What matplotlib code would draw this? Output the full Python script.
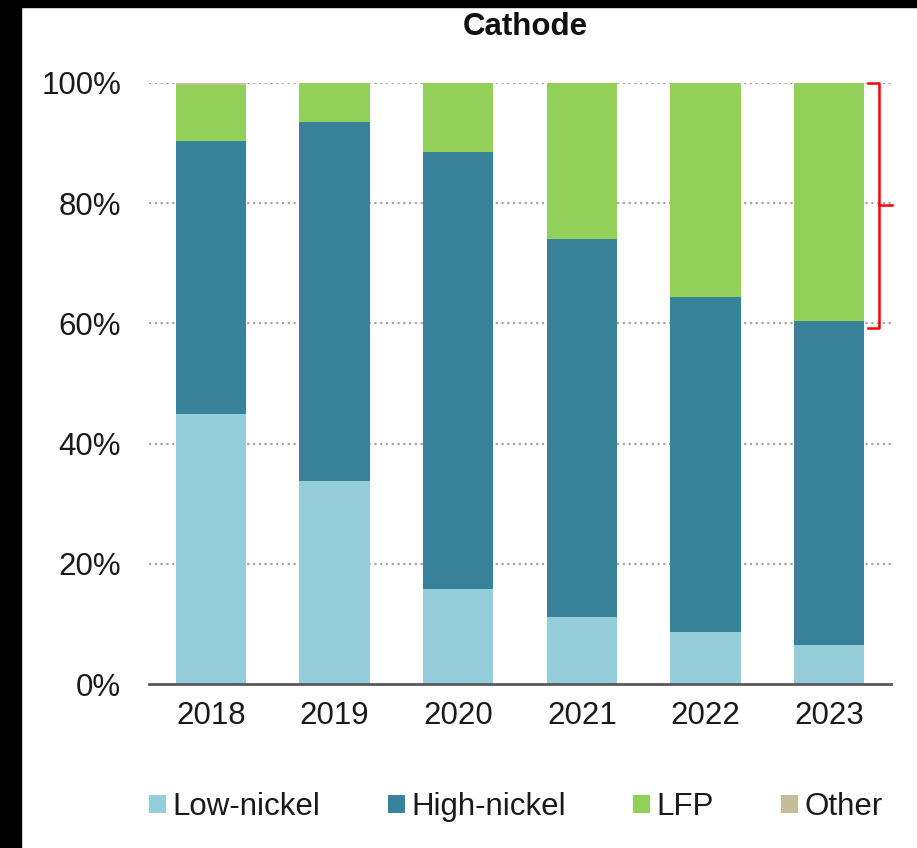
import matplotlib
matplotlib.use("Agg")
import matplotlib.pyplot as plt
from matplotlib.patches import Patch, Rectangle
from matplotlib.transforms import blended_transform_factory
import numpy as np

plt.rcParams['font.family'] = ['Liberation Sans', 'DejaVu Sans']

# data (share of cathode, %)
years = ["2018", "2019", "2020", "2021", "2022", "2023"]
low_nickel = [44.9, 33.8, 15.8, 11.1, 8.7, 6.5]
high_nickel = [45.4, 59.7, 72.7, 62.9, 55.7, 53.9]
lfp = [9.4, 6.5, 11.5, 26.0, 35.6, 39.6]
other = [0.3, 0.0, 0.0, 0.0, 0.0, 0.0]
series_names = ["Low-nickel", "High-nickel", "LFP", "Other"]
colors = ["#96CDDB", "#38839A", "#92D05A", "#C4BD97"]
yticks = [0, 20, 40, 60, 80, 100]

W, H = 917, 848
fig = plt.figure(figsize=(W / 100, H / 100), dpi=100)
fig.patch.set_facecolor("white")

# black strips from the screenshot crop
fig.patches.append(Rectangle((0, 0), 21 / W, 1, transform=fig.transFigure, color="black", zorder=10))
fig.patches.append(Rectangle((0, 1 - 7 / H), 1, 7 / H, transform=fig.transFigure, color="black", zorder=10))

ax = fig.add_axes([149 / W, 1 - 684 / H, 742 / W, 601 / H])
x = np.arange(len(years))
bottom = np.zeros(len(years))
for vals, c, name in zip([low_nickel, high_nickel, lfp, other], colors, series_names):
    ax.bar(x, vals, width=0.57, bottom=bottom, color=c, label=name, zorder=3)
    bottom += np.array(vals)

ax.set_xlim(-0.5, 5.5)
ax.set_ylim(0, 100)
ax.set_yticks(yticks)
ax.set_yticklabels([f"{v}%" for v in yticks])
ax.set_xticks(x)
ax.set_xticklabels(years)
ax.tick_params(axis="both", length=0, labelsize=22.5, colors="#1a1a1a")
ax.tick_params(axis="y", pad=20)
ax.tick_params(axis="x", pad=12.5)
for v in yticks[1:]:
    ax.axhline(v, color="#A6A6A6", lw=1.6, ls=(0, (1, 1.6)), zorder=1)
for s in ["top", "right", "left"]:
    ax.spines[s].set_visible(False)
ax.spines["bottom"].set_color("#595959")
ax.spines["bottom"].set_linewidth(2)
ax.spines["bottom"].set_zorder(4)

fig.text(525 / W, 1 - 27 / H, "Cathode", ha="center", va="center",
         fontsize=22.5, fontweight="bold", color="#111111")

handles = [Patch(facecolor=c, label=n) for c, n in zip(colors, series_names)]
fig.legend(handles=handles, loc="center", bbox_to_anchor=(516 / W, 1 - 807 / H),
           ncol=4, frameon=False, fontsize=22.5, handlelength=0.55, handleheight=0.55,
           handletextpad=0.2, columnspacing=2.15, borderpad=0, labelcolor="#1a1a1a")

# red brace marking the 2023 LFP share
tr = blended_transform_factory(ax.transAxes, ax.transData)
top_y = 100
bot_y = 59.3
mid_y = (top_y + bot_y) / 2
ax.plot([0.969, 0.984, 0.984, 1.002], [top_y, top_y, mid_y, mid_y], transform=tr,
        color="red", lw=1.8, clip_on=False, zorder=5)
ax.plot([0.984, 0.984, 0.969], [mid_y, bot_y, bot_y], transform=tr,
        color="red", lw=1.8, clip_on=False, zorder=5)

fig.savefig("out.png", dpi=100)
